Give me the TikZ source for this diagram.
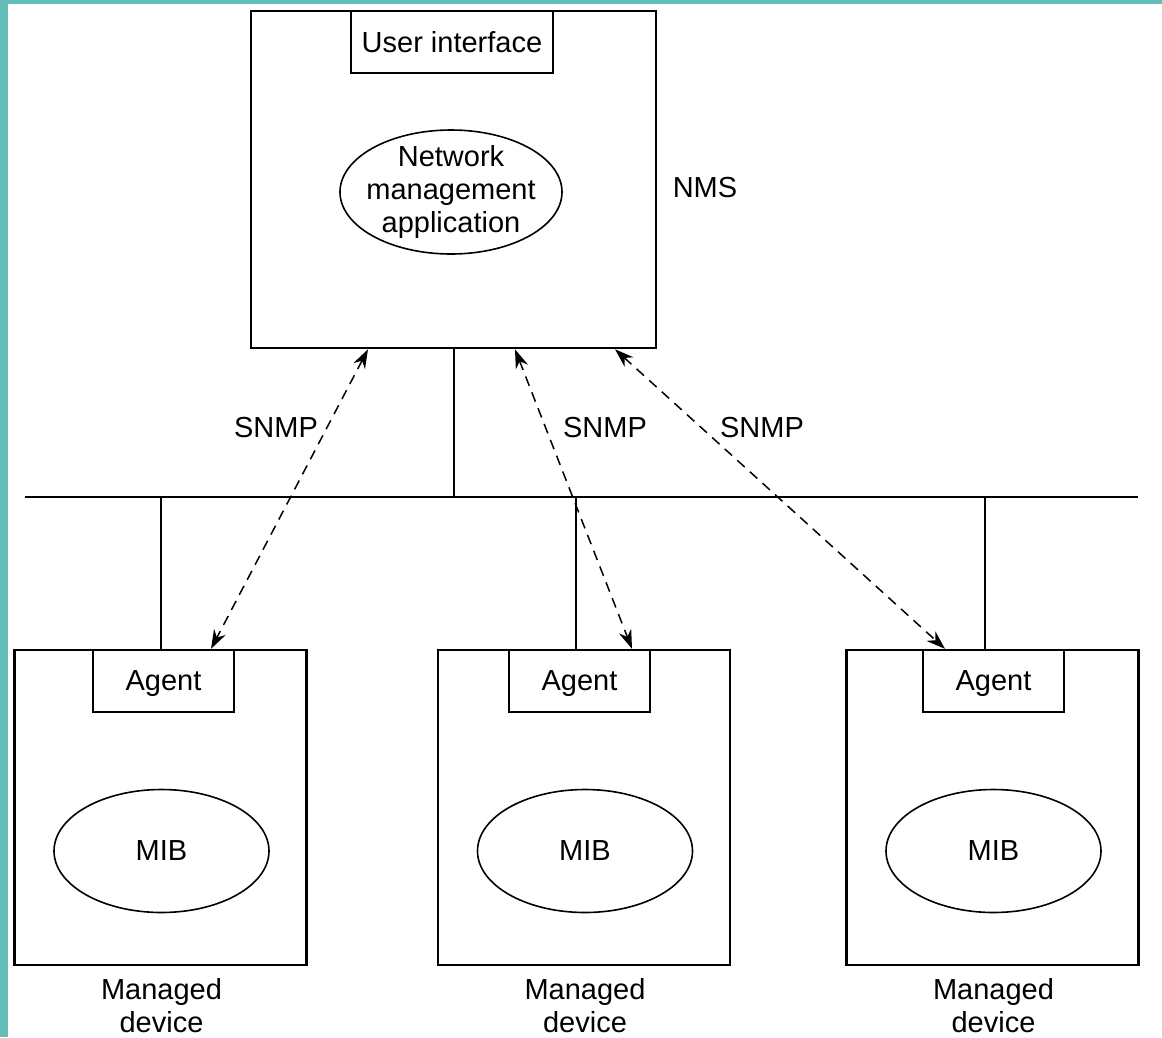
\documentclass[tikz,border=0pt]{standalone}
\usepackage{fontspec}
\setmainfont{Liberation Sans}
\usepackage{tikz}
\usetikzlibrary{calc,shapes.geometric,arrows.meta}

\definecolor{teal bg}{RGB}{98,188,184}

\tikzset{
  box/.style={draw, line width=2.3pt, inner sep=0pt},
  oval/.style={draw, ellipse, line width=1.6pt, inner sep=0pt, align=center},
  label text/.style={align=center, inner sep=0pt},
  wire/.style={line width=2.3pt},
  snmp/.style={line width=1.5pt, dash pattern=on 10pt off 7pt,
    {Stealth[length=19pt,width=13pt]}-{Stealth[length=19pt,width=13pt]}}
}

\begin{document}
\begin{tikzpicture}[x=1pt, y=-1pt, font=\fontsize{29}{33}\selectfont]
% background
\fill[teal bg] (0,0) rectangle (1162,1037);
\fill[white] (8,4) rectangle (1162,1037);
\useasboundingbox (0,0) rectangle (1162,1037);

% NMS
\node[box, anchor=north west, minimum width=405pt, minimum height=337pt] (nms) at (250,10) {};
\node[box, anchor=north, minimum width=202pt, minimum height=62pt] (ui) at (452,10) {User interface};
\node[oval, inner xsep=-10pt, inner ysep=-6pt, minimum width=222pt, minimum height=124pt] (nma) at (451,192) {Network\\management\\application};
\node[label text] (nmslabel) at (705,188) {NMS};

% network bus
\coordinate (busL) at (25,497);
\coordinate (busR) at (1138,497);
\draw[wire] (busL) -- (busR);
\draw[wire] (nms.south) -- (nms.south |- busL);

% managed devices
\foreach \i/\x/\a/\t in {1/160.5/3/161, 2/584/-4.5/576, 3/992.5/1/985} {
  \node[box, minimum width=292pt, minimum height=315pt] (dev\i) at (\x,807.5) {};
  \node[box, anchor=north, minimum width=141pt, minimum height=62pt, text depth=-2pt] (agent\i) at ([xshift=\a pt]dev\i.north) {Agent};
  \node[oval, minimum width=215pt, minimum height=123pt] (mib\i) at ($(\x,851)+(1,0)$) {MIB};
  \node[label text] (devlabel\i) at ($(\x,1006)+(1,0)$) {Managed\\device};
  \coordinate (tap\i) at (\t,497);
  \draw[wire] (tap\i) -- (tap\i |- dev\i.north);
}

% SNMP exchanges
\coordinate (from1) at ([xshift=118pt]nms.south west);
\coordinate (from2) at ([xshift=265pt]nms.south west);
\coordinate (from3) at ([xshift=365pt]nms.south west);
\draw[snmp] (from1) -- ([xshift=47.5pt]agent1.north);
\draw[snmp] (from2) -- ([xshift=52.5pt]agent2.north);
\draw[snmp] (from3) -- ([xshift=-48.5pt]agent3.north);
\node[label text] (snmp1) at (276,428) {SNMP};
\node[label text] (snmp2) at (605,428) {SNMP};
\node[label text] (snmp3) at (762,428) {SNMP};
\end{tikzpicture}
\end{document}
